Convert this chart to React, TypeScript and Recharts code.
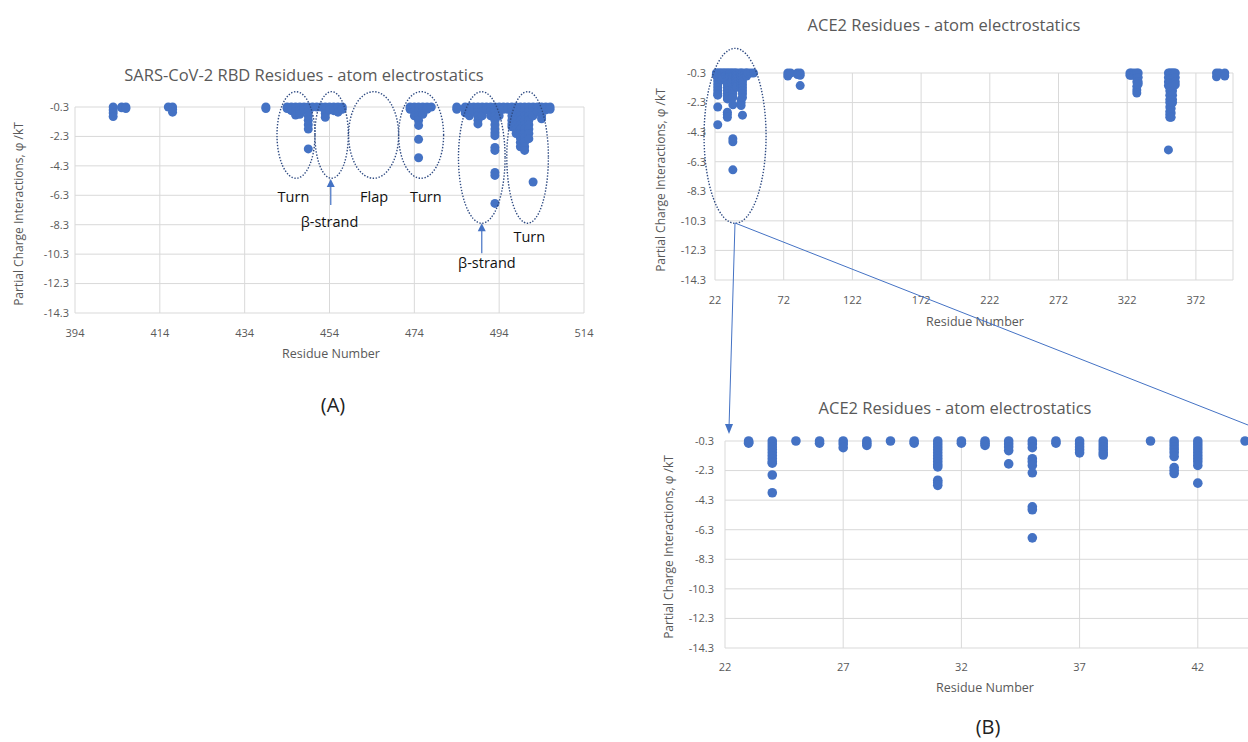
import React from 'react'
import { ScatterChart, Scatter, XAxis, YAxis, CartesianGrid, ReferenceDot } from 'recharts'

const FONT = '"Open Sans", "Liberation Sans", sans-serif'
const BLUE = '#4472C4'
const GREY = '#595959'
const RING = '#2E4A82'

// shared y axis ticks (partial charge interactions, phi / kT)
const phiTicks = [-0.3, -2.3, -4.3, -6.3, -8.3, -10.3, -12.3, -14.3]

// (A) SARS-CoV-2 RBD residues
const rbdTicks = [394, 414, 434, 454, 474, 494, 514]
const rbdResidues = [
  403, 405, 406, 416, 417, 439,
  444, 445, 446, 447, 448, 449, 450, 451,
  452, 453, 454, 455, 456, 457,
  473, 474, 475, 476, 477, 478,
  484, 486, 487, 488, 489, 490, 491, 492, 493, 494, 495, 496,
  497, 498, 499, 500, 501, 502, 503, 504, 505, 506,
]
const rbdPhi = [
  [-0.3, -0.5, -0.7, -0.95], [-0.3, -0.35], [-0.3, -0.4], [-0.3], [-0.3, -0.45, -0.65], [-0.3, -0.4],
  [-0.3, -0.4], [-0.3, -0.55], [-0.3, -0.6, -0.85], [-0.3, -0.55, -0.8], [-0.3, -0.5],
  [-0.3, -0.6, -0.9, -1.2, -1.5, -1.8, -3.15], [-0.3], [-0.3],
  [-0.3], [-0.3, -0.5, -0.75, -1.0], [-0.3, -0.5], [-0.3, -0.55], [-0.3, -0.65], [-0.3, -0.45],
  [-0.3, -0.45], [-0.3, -0.6, -0.9], [-0.3, -0.6, -0.9, -1.2, -1.55, -2.5, -3.75], [-0.3, -0.6, -0.8], [-0.3, -0.45], [-0.3],
  [-0.3, -0.45], [-0.3, -0.5, -0.7], [-0.3, -0.6, -0.9], [-0.3, -0.6], [-0.3, -0.6, -0.9, -1.2, -1.45],
  [-0.3, -0.6, -0.9], [-0.3, -0.5], [-0.3, -0.6, -0.9],
  [-0.3, -0.6, -0.9, -1.2, -1.5, -1.8, -2.05, -2.25, -3.05, -3.25, -4.75, -4.95, -6.85],
  [-0.3, -0.6, -0.9], [-0.3, -0.45], [-0.3, -0.45],
  [-0.3, -0.6, -0.9, -1.2, -1.45, -1.65], [-0.3, -0.6, -0.9, -1.2, -1.5, -1.8, -2.1],
  [-0.3, -0.6, -0.9, -1.2, -1.5, -1.8, -2.1, -2.4, -2.7, -3.0],
  [-0.3, -0.6, -0.9, -1.2, -1.5, -1.8, -2.1, -2.4, -2.7, -3.0, -3.25],
  [-0.3, -0.6, -0.9, -1.2, -1.5, -1.8, -2.1, -2.45], [-0.3, -0.6, -0.9, -5.4],
  [-0.3, -0.6], [-0.3, -0.6, -0.9, -1.1], [-0.3, -0.5], [-0.3, -0.45],
]

// (B) ACE2 residues, full range and zoom on 22-47
const aceTicks = [22, 72, 122, 172, 222, 272, 322, 372]
const aceZoomTicks = [22, 27, 32, 37, 42]
const aceZoomMax = 47
const aceResidues = [
  23, 24, 25, 26, 27, 28, 29, 30, 31, 32, 33, 34, 35, 36, 37, 38, 40, 41, 42, 44,
  45, 46, 48, 50, 75, 77, 82, 84,
  324, 325, 327, 329, 330,
  352, 353, 354, 355, 356, 357,
  387, 389, 393,
]
const acePhi = [
  [-0.3, -0.4, -0.45],
  [-0.3, -0.5, -0.7, -0.9, -1.1, -1.3, -1.5, -1.7, -1.8, -2.6, -3.8],
  [-0.3], [-0.3, -0.45], [-0.3, -0.5, -0.75], [-0.3, -0.45, -0.6], [-0.3], [-0.3, -0.45],
  [-0.3, -0.5, -0.7, -0.9, -1.1, -1.3, -1.5, -1.7, -1.9, -2.05, -2.95, -3.1, -3.3],
  [-0.3, -0.45], [-0.3, -0.45, -0.6], [-0.3, -0.5, -0.7, -0.95, -1.85],
  [-0.3, -0.5, -0.75, -1.5, -1.7, -1.95, -2.45, -4.75, -4.95, -6.85],
  [-0.3, -0.45], [-0.3, -0.5, -0.7, -0.9, -1.1], [-0.3, -0.5, -0.7, -0.9, -1.1, -1.25],
  [-0.3], [-0.3, -0.5, -0.7, -0.9, -1.1, -1.35, -2.1, -2.3, -2.5],
  [-0.3, -0.5, -0.7, -0.9, -1.1, -1.3, -1.5, -1.7, -1.95, -3.15], [-0.3],
  [-0.3, -0.5], [-0.3], [-0.3], [-0.3],
  [-0.3, -0.5], [-0.3], [-0.3, -0.4], [-0.3, -0.45, -1.15],
  [-0.3, -0.45], [-0.3, -0.45], [-0.3, -0.45], [-0.3, -0.6, -0.9, -1.2, -1.45, -1.65], [-0.3, -0.6, -0.9, -1.05],
  [-0.3, -0.6, -0.9, -1.15, -5.5],
  [-0.3, -0.6, -0.9, -1.2, -1.5, -1.8, -2.1, -2.3, -2.6, -2.9, -3.1, -3.3],
  [-0.3, -0.6, -0.9, -1.2, -1.5, -1.8, -2.1, -2.4, -2.7, -3.0, -3.3],
  [-0.3, -0.6, -0.9, -1.2, -1.5, -1.8, -2.1, -2.3],
  [-0.3, -0.6, -0.9, -1.15], [-0.3, -0.6, -0.9, -1.1],
  [-0.3, -0.55], [-0.3], [-0.3, -0.5],
]

const toPoints = (residues: number[], phi: number[][]) =>
  residues.flatMap((r, i) => phi[i].map((v) => ({ residue: r, phi: v })))

const rbdPoints = toPoints(rbdResidues, rbdPhi)
const acePoints = toPoints(aceResidues, acePhi)
// the zoomed panel only shows residues 22-47
const aceZoomPoints = acePoints.filter((p) => p.residue <= aceZoomMax)

const dot = (r: number) => (p: any) => <circle cx={p.cx} cy={p.cy} r={r} fill={BLUE} />

const ring = (rx: number, ry: number) => (p: any) => (
  <ellipse cx={p.cx} cy={p.cy} rx={rx} ry={ry} fill="none" stroke={RING} strokeWidth={1.4} strokeDasharray="1.4 1.6" />
)
const note = (text: string) => (p: any) => (
  <text x={p.cx} y={p.cy} textAnchor="middle" dominantBaseline="central" fontSize={14.5} fill="#111" fontFamily={FONT}>{text}</text>
)
const upArrow = (len: number) => (p: any) => (
  <g>
    <line x1={p.cx} y1={p.cy + 5} x2={p.cx} y2={p.cy + len} stroke={BLUE} strokeWidth={1.2} />
    <path d={`M${p.cx},${p.cy} L${p.cx - 4},${p.cy + 8} L${p.cx + 4},${p.cy + 8} Z`} fill={BLUE} />
  </g>
)

function Txt({ x, y, size, children, rotate, color = GREY }: any) {
  return (
    <div
      style={{
        position: 'absolute', left: x, top: y, fontSize: size, color, whiteSpace: 'nowrap', lineHeight: 1,
        transform: `translate(-50%, -50%)${rotate ? ' rotate(-90deg)' : ''}`,
      }}
    >
      {children}
    </div>
  )
}

function Panel({ left, top, width, height, plot, xDomain, xTicks, data, tickGap, dotR = 4.5, children }: any) {
  const margin = { top: plot.top - top, right: left + width - plot.right, left: 0, bottom: top + height - plot.bottom - 30 }
  return (
    <div style={{ position: 'absolute', left, top }}>
      <ScatterChart width={width} height={height} margin={margin}>
        <CartesianGrid stroke="#d9d9d9" />
        <XAxis
          type="number" dataKey="residue" domain={xDomain} ticks={xTicks} interval={0} height={30}
          axisLine={false} tickLine={false} tickMargin={tickGap.x}
          tick={{ fill: GREY, fontSize: 11, fontFamily: FONT }}
        />
        <YAxis
          type="number" dataKey="phi" domain={[-14.3, -0.3]} ticks={phiTicks} interval={0} width={plot.left - left}
          axisLine={false} tickLine={false} tickMargin={tickGap.y}
          tick={{ fill: GREY, fontSize: 11, fontFamily: FONT }}
        />
        <Scatter data={data} fill={BLUE} shape={dot(dotR)} isAnimationActive={false} />
        {children}
      </ScatterChart>
    </div>
  )
}

export default function App() {
  return (
    <div style={{ position: 'absolute', left: 0, top: 0, width: 1248, height: 742, overflow: 'hidden', background: '#fff', fontFamily: FONT }}>
      {/* (A) RBD */}
      <Panel
        left={0} top={40} width={600} height={340}
        plot={{ left: 75, right: 584, top: 107, bottom: 313 }}
        xDomain={[394, 514]} xTicks={rbdTicks} data={rbdPoints} tickGap={{ x: 10, y: 0 }}
      >
        <ReferenceDot x={446.1} y={-2.2} shape={ring(19, 43.3)} />
        <ReferenceDot x={454.5} y={-2.2} shape={ring(16.7, 43.3)} />
        <ReferenceDot x={464.4} y={-2.2} shape={ring(25, 43.3)} />
        <ReferenceDot x={475.6} y={-2.2} shape={ring(22.5, 43.3)} />
        <ReferenceDot x={489.9} y={-3.73} shape={ring(23.3, 65.8)} />
        <ReferenceDot x={500.7} y={-3.73} shape={ring(20.8, 65.8)} />
        <ReferenceDot x={445.5} y={-6.35} shape={note('Turn')} />
        <ReferenceDot x={464.5} y={-6.35} shape={note('Flap')} />
        <ReferenceDot x={476.7} y={-6.35} shape={note('Turn')} />
        <ReferenceDot x={454} y={-8.1} shape={note('β-strand')} />
        <ReferenceDot x={491.1} y={-10.9} shape={note('β-strand')} />
        <ReferenceDot x={501.1} y={-9.1} shape={note('Turn')} />
        <ReferenceDot x={454.3} y={-5.2} shape={upArrow(26)} />
        <ReferenceDot x={489.9} y={-8.2} shape={upArrow(30)} />
      </Panel>
      <Txt x={304} y={75} size={16.5}>SARS-CoV-2 RBD Residues - atom electrostatics</Txt>
      <Txt x={331} y={354} size={12.5}>Residue Number</Txt>
      <Txt x={19} y={214} size={12} rotate>Partial Charge Interactions, φ /kT</Txt>
      <Txt x={333} y={405} size={20} color="#222">(A)</Txt>

      {/* (B) ACE2 full */}
      <Panel
        left={640} top={0} width={608} height={340}
        plot={{ left: 715, right: 1233, top: 73, bottom: 280 }}
        xDomain={[22, 399]} xTicks={aceTicks} data={acePoints} tickGap={{ x: 10, y: 3 }}
      >
        <ReferenceDot x={36.6} y={-4.55} shape={ring(31, 87.5)} />
      </Panel>
      <Txt x={944} y={25} size={16.5}>ACE2 Residues - atom electrostatics</Txt>
      <Txt x={975} y={322} size={12.5}>Residue Number</Txt>
      <Txt x={661} y={180} size={12} rotate>Partial Charge Interactions, φ /kT</Txt>

      {/* (B) ACE2 zoom on 22-47 */}
      <Panel
        left={640} top={380} width={700} height={340}
        plot={{ left: 725, right: 1316, top: 441, bottom: 648 }}
        xDomain={[22, aceZoomMax]} xTicks={aceZoomTicks} data={aceZoomPoints} tickGap={{ x: 9, y: 5 }} dotR={4.8}
      />
      <Txt x={955} y={408} size={16.5}>ACE2 Residues - atom electrostatics</Txt>
      <Txt x={985} y={688} size={12.5}>Residue Number</Txt>
      <Txt x={669} y={547} size={12} rotate>Partial Charge Interactions, φ /kT</Txt>
      <Txt x={988} y={727} size={20} color="#222">(B)</Txt>

      {/* connectors from the circled region to the zoomed chart */}
      <svg width={1248} height={742} style={{ position: 'absolute', left: 0, top: 0, pointerEvents: 'none' }}>
        <line x1={735} y1={223} x2={729} y2={428} stroke={BLUE} strokeWidth={1} />
        <path d="M729,434 L725,424 L733,424 Z" fill={BLUE} />
        <line x1={735} y1={223} x2={1248} y2={425} stroke={BLUE} strokeWidth={1} />
      </svg>
    </div>
  )
}
